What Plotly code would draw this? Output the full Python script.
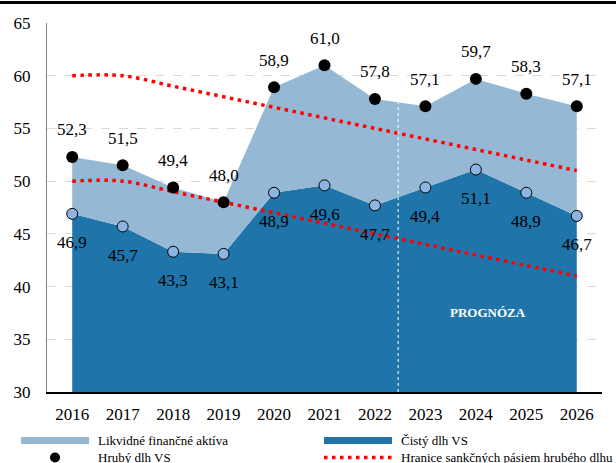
"""Hrubý a čistý dlh VS s hranicami sankčných pásiem"""
import plotly.graph_objects as go

years = [2016, 2017, 2018, 2019, 2020, 2021, 2022, 2023, 2024, 2025, 2026]
hruby_dlh = [52.3, 51.5, 49.4, 48.0, 58.9, 61.0, 57.8, 57.1, 59.7, 58.3, 57.1]
cisty_dlh = [46.9, 45.7, 43.3, 43.1, 48.9, 49.6, 47.7, 49.4, 51.1, 48.9, 46.7]
hranica_horna = [60, 60, 59, 58, 57, 56, 55, 54, 53, 52, 51]
hranica_dolna = [50, 50, 49, 48, 47, 46, 45, 44, 43, 42, 41]

FONT = '"Liberation Serif", "Times New Roman", Tinos, "DejaVu Serif", serif'
LIGHT = '#95b9d5'
DARK = '#1f74aa'
MARKER_LIGHT = '#8db4e2'
RED_DASH = '3.5px,4.5px'

# pomocné prepočty pixel -> paper (plocha grafu 47..602 x 23..392)
PL, PR, PT, PB = 47, 602, 23, 392


def px(x):
    return (x - PL) / (PR - PL)


def py(y):
    return (PB - y) / (PB - PT)


def fmt(v):
    return f"{v:.1f}".replace('.', ',')


fig = go.Figure()

fig.add_trace(go.Scatter(
    x=years, y=cisty_dlh, mode='lines',
    line=dict(width=0, color=DARK),
    fill='tozeroy', fillcolor=DARK,
    name='Čistý dlh VS', showlegend=False
))
fig.add_trace(go.Scatter(
    x=years, y=hruby_dlh, mode='lines',
    line=dict(width=0, color=LIGHT),
    fill='tonexty', fillcolor=LIGHT,
    name='Likvidné finančné aktíva', showlegend=False
))

# prechod skutočnosť / prognóza
split = 0.46
y_top = hruby_dlh[6] + split * (hruby_dlh[7] - hruby_dlh[6])
fig.add_shape(type='line', xref='x', yref='y',
              x0=years[6] + split, x1=years[6] + split, y0=30, y1=y_top,
              line=dict(color='white', width=1, dash='dot'), layer='above')

for hr in (hranica_horna, hranica_dolna):
    fig.add_trace(go.Scatter(
        x=years, y=hr, mode='lines',
        line=dict(color='#ff0000', width=3.5, dash=RED_DASH, shape='spline'),
        showlegend=False
    ))

fig.add_trace(go.Scatter(
    x=years, y=cisty_dlh, mode='markers',
    marker=dict(size=11, color=MARKER_LIGHT, line=dict(color='#000000', width=1)),
    showlegend=False
))
fig.add_trace(go.Scatter(
    x=years, y=hruby_dlh, mode='markers',
    marker=dict(size=12, color='#000000'),
    showlegend=False
))

for x, v in zip(years, hruby_dlh):
    fig.add_annotation(x=x, y=v, text=fmt(v), showarrow=False, yshift=27,
                       font=dict(family=FONT, size=17, color='#000000'))
for x, v in zip(years, cisty_dlh):
    fig.add_annotation(x=x, y=v, text=fmt(v), showarrow=False, yshift=-29,
                       font=dict(family=FONT, size=17, color='#000000'))

fig.add_annotation(x=2024.24, y=37.5, text='<b>PROGNÓZA</b>', showarrow=False,
                   font=dict(family=FONT, size=13, color='#ffffff'))

# horná čiara cez celú šírku (ako anotácia s čiernym pozadím)
fig.add_annotation(xref='paper', yref='paper', x=px(308), y=py(2.7),
                   xanchor='center', yanchor='middle', text=' ',
                   showarrow=False, width=616, height=3,
                   bgcolor='#000000', borderpad=0, borderwidth=0,
                   font=dict(size=1, color='#000000'))

# legenda (ručne)
fig.add_shape(type='line', xref='paper', yref='paper',
              x0=px(21), x1=px(89), y0=py(440.5), y1=py(440.5),
              line=dict(color=LIGHT, width=7))
fig.add_shape(type='line', xref='paper', yref='paper',
              x0=px(324), x1=px(392), y0=py(440.5), y1=py(440.5),
              line=dict(color=DARK, width=7))
fig.add_shape(type='circle', xref='paper', yref='paper',
              xsizemode='pixel', ysizemode='pixel',
              xanchor=px(55), yanchor=py(457.5), x0=-5, x1=5, y0=-5, y1=5,
              fillcolor='#000000', line=dict(color='#000000', width=0))
fig.add_shape(type='line', xref='paper', yref='paper',
              x0=px(324), x1=px(393), y0=py(457.5), y1=py(457.5),
              line=dict(color='#ff0000', width=3.5, dash=RED_DASH))

legend_texts = [
    ('Likvidné finančné aktíva', 96, 440.5),
    ('Čistý dlh VS', 399, 440.5),
    ('Hrubý dlh VS', 96, 457),
    ('Hranice sankčných pásiem hrubého dlhu', 399, 457),
]
for t, lx, ly in legend_texts:
    fig.add_annotation(xref='paper', yref='paper', x=px(lx), y=py(ly),
                       xanchor='left', yanchor='middle', text=t, showarrow=False,
                       font=dict(family=FONT, size=13, color='#000000'))

fig.update_layout(
    width=616, height=463,
    plot_bgcolor='#ffffff',
    paper_bgcolor='#ffffff',
    font=dict(family=FONT, color='#000000'),
    margin=dict(l=PL, r=616 - PR, t=PT, b=463 - PB),
    showlegend=False,
    xaxis=dict(
        range=[2015.5, 2026.5],
        tickmode='array', tickvals=years, ticktext=[str(y) for y in years],
        showgrid=False, zeroline=False,
        showline=True, linecolor='#000000', linewidth=1.5,
        ticks='', tickfont=dict(family=FONT, size=17, color='#000000'),
        ticklabelstandoff=6
    ),
    yaxis=dict(
        range=[30, 65], dtick=5,
        showgrid=True, gridcolor='#d9d9d9', griddash='dash', gridwidth=1,
        zeroline=False,
        showline=True, linecolor='#868686', linewidth=1,
        ticks='', tickfont=dict(family=FONT, size=17, color='#000000'),
        ticklabelstandoff=12
    ),
)

fig.write_html("out.html", config={'displayModeBar': False},
               post_script="document.body.style.margin='0';")
